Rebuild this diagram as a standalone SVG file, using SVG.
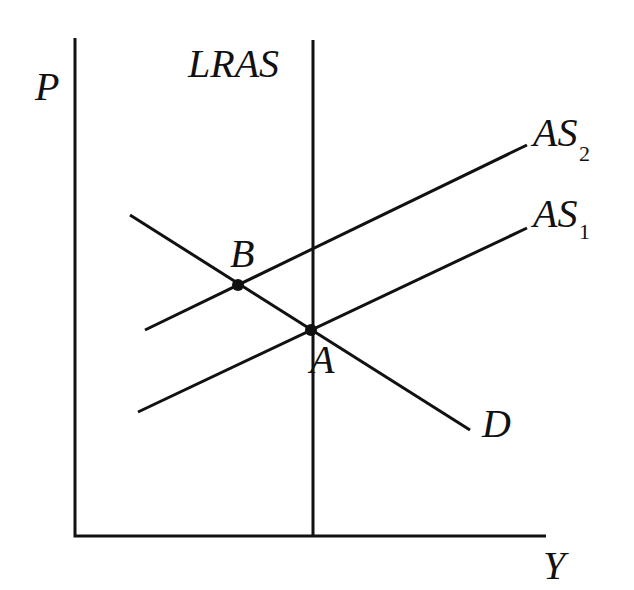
<svg xmlns="http://www.w3.org/2000/svg" width="634" height="590" viewBox="0 0 634 590">
<style>
.ln{stroke:#111;stroke-width:3;fill:none;stroke-linecap:butt}
.lb{font-family:"Liberation Serif","Times New Roman",serif;font-style:italic;font-size:40px;fill:#111}
.sb{font-family:"Liberation Serif","Times New Roman",serif;font-size:22px;fill:#111}
</style>
<rect width="634" height="590" fill="#fff"/>
<g id="axes">
<polyline class="ln" points="75,38 75,536 546,536"/>
<text class="lb" x="35" y="100">P</text>
<text class="lb" x="543" y="579" font-size="38">Y</text>
</g>
<g id="connectors">
<line id="LRAS-line" class="ln" x1="313" y1="40" x2="313" y2="536"/>
<line id="AS2-line" class="ln" x1="145" y1="330" x2="527" y2="145"/>
<line id="AS1-line" class="ln" x1="138" y1="412" x2="527" y2="228"/>
<line id="D-line" class="ln" x1="130" y1="215" x2="470" y2="430"/>
</g>
<g id="LRAS"><text class="lb" x="188" y="77">LRAS</text></g>
<g id="AS2"><text class="lb" x="533" y="146">AS</text><text class="sb" x="579" y="161">2</text></g>
<g id="AS1"><text class="lb" x="533" y="227">AS</text><text class="sb" x="579" y="239">1</text></g>
<g id="D"><text class="lb" x="482" y="437">D</text></g>
<g id="B"><circle cx="238" cy="285" r="6" fill="#111"/><text class="lb" x="230" y="267">B</text></g>
<g id="A"><circle cx="311" cy="330" r="6" fill="#111"/><text class="lb" x="310" y="373">A</text></g>
</svg>
